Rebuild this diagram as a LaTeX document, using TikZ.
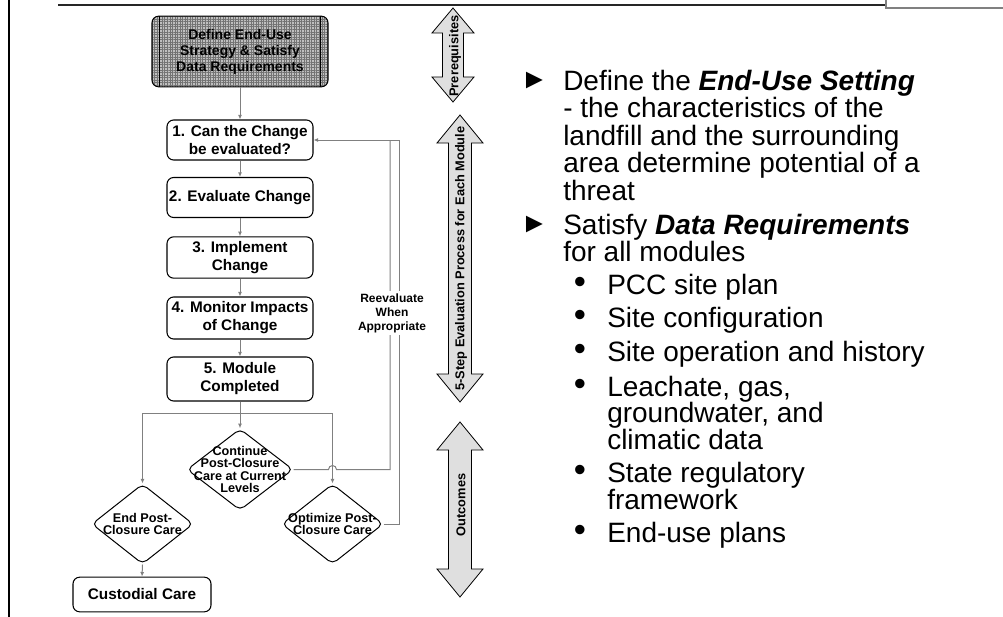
\documentclass[tikz,border=0pt]{standalone}
\usepackage{fontspec}
\setmainfont{Liberation Sans}
\usetikzlibrary{shapes.geometric,arrows.meta,patterns.meta}

\tikzset{
  stepbox/.style={draw=black, line width=0.8pt, rounded corners=5pt, fill=white,
    minimum width=109.5pt, minimum height=30pt, inner sep=1pt, align=center,
    font=\bfseries\fontsize{11.5}{13.5}\selectfont},
  choice/.style={draw=black, line width=0.75pt, shape=diamond, rounded corners=4pt,
    fill=white, inner sep=0pt, minimum width=76pt, minimum height=60pt},
  choicetext/.style={align=center, inner sep=0pt, font=\bfseries\fontsize{9.5}{9.2}\selectfont},
  flow/.style={draw=gray, line width=0.75pt},
  flowarrow/.style={flow, -{Latex[length=3.5pt,width=3pt]}},
  phase/.style={draw=black, line width=0.6pt, fill=gray!25},
  phasetext/.style={rotate=90, inner sep=0pt, font=\bfseries\fontsize{9.6}{11}\selectfont},
  bigtext/.style={anchor=base west, inner sep=0pt, font=\fontsize{21}{24}\selectfont},
  tribullet/.style={inner sep=0pt, font=\fontsize{21}{24}\selectfont},
  dotbullet/.style={inner sep=0pt, font=\fontsize{26}{28}\selectfont},
}

% double headed grey arrow: x, top tip, bottom tip, head length, head half width
\newcommand{\phasearrow}[5]{%
  \draw[phase] (#1,#2) -- (#1+#5,#2+#4) -- (#1+#5/2,#2+#4) -- (#1+#5/2,#3-#4)
    -- (#1+#5,#3-#4) -- (#1,#3) -- (#1-#5,#3-#4) -- (#1-#5/2,#3-#4)
    -- (#1-#5/2,#2+#4) -- (#1-#5,#2+#4) -- cycle;}

\begin{document}
\begin{tikzpicture}[x=0.75pt, y=-0.75pt]
\useasboundingbox (0,0) rectangle (1003,617);
% Frame
\draw[line width=2pt, black] (9,0) -- (9,617);
\draw[line width=2.2pt, black!85] (58,5) -- (886,5);
\draw[line width=1.5pt, gray] (886,0) -- (886,8) -- (1003,8);

% Start box
\node[draw=black, line width=0.8pt, rounded corners=5pt, minimum width=132pt, minimum height=53pt,
  preaction={fill=gray!50}, pattern={Hatch[angle=0, distance=1.9pt, line width=0.35pt]},
  pattern color=black!55] (define) at (240,51.5) {};
\draw[black, line width=0.6pt] ([xshift=6pt]define.north west) -- ([xshift=6pt]define.south west);
\draw[black, line width=0.6pt] ([xshift=-6pt]define.north east) -- ([xshift=-6pt]define.south east);
\node[align=center, font=\bfseries\fontsize{10.5}{12}\selectfont] (definetext) at (240,51.5)
  {Define End-Use\\Strategy \& Satisfy\\Data Requirements};

% Steps
\node[stepbox] (q1) at (240,140) {1. Can the Change\\be evaluated?};
\node[stepbox] (s2) at (240,197.5) {2. Evaluate Change};
\node[stepbox, minimum height=31pt] (s3) at (240,257.5) {3. Implement\\Change};
\node[stepbox, minimum height=31.5pt] (s4) at (240,318) {4. Monitor Impacts\\of Change};
\node[stepbox, minimum height=33pt] (s5) at (240,379) {5. Module\\Completed};

% Outcomes
\node[choice, minimum width=79.5pt, minimum height=61pt] (cont) at (240,469.5) {};
\node[choicetext] at (cont.center) {Continue\\Post-Closure\\Care at Current\\Levels};
\node[choice] (endpcc) at (142.5,524) {};
\node[choicetext] at (endpcc.center) {End Post-\\Closure Care};
\node[choice] (opt) at (332.5,524) {};
\node[choicetext] at (opt.center) {Optimize Post-\\Closure Care};
\node[stepbox, minimum width=103.5pt, minimum height=26pt] (cust) at (142,594.5) {Custodial Care};

% Connectors
\coordinate (split) at (240,413);
\coordinate (fbA) at (390,0);
\coordinate (fbB) at (399,0);
\draw[flowarrow] (define.south) -- (q1.north);
\draw[flowarrow] (q1.south) -- (s2.north);
\draw[flowarrow] (s2.south) -- (s3.north);
\draw[flowarrow] (s3.south) -- (s4.north);
\draw[flowarrow] (s4.south) -- (s5.north);
\draw[flow] (s5.south) -- (split);
\draw[flowarrow] (split) -| (endpcc.north);
\draw[flowarrow] (split) -- (cont.north);
\draw[flowarrow] (split) -| (opt.north);
\draw[flowarrow] (endpcc.south) -- (cust.north);
\draw[flow] (cont.east) -- ([xshift=-3pt]opt.north |- cont.east)
  arc[start angle=180, end angle=360, radius=4] -- (fbA |- cont.east) -- (fbA |- q1.east);
\draw[flowarrow] (opt.east) -- (fbB |- opt.east) -- (fbB |- q1.east) -- (q1.east);
\node[fill=white, inner sep=2pt, align=center, font=\bfseries\fontsize{9}{10.5}\selectfont]
  (reeval) at (392,313) {Reevaluate\\When\\Appropriate};

% Phase arrows
\phasearrow{453}{8}{102}{25}{21}
\node[phasetext] (prereq) at (455,56) {Prerequisites};
\phasearrow{460}{115}{402}{28}{23}
\node[phasetext] (steps) at (461,258.5) {5-Step Evaluation Process for Each Module};
\phasearrow{460}{422}{597}{28}{23}
\node[phasetext] (outc) at (461,505) {Outcomes};

% Text
\node[tribullet] (b1) at (534.5,81) {►};
\node[bigtext] (t1) at (563,90) {Define the \textbf{\textit{End-Use Setting}}};
\node[bigtext] (t2) at (563,117.5) {- the characteristics of the};
\node[bigtext] (t3) at (563,145) {landfill and the surrounding};
\node[bigtext] (t4) at (563,172.5) {area determine potential of a};
\node[bigtext] (t5) at (563,200) {threat};
\node[tribullet] (b2) at (534.5,225) {►};
\node[bigtext] (t6) at (563,234) {Satisfy \textbf{\textit{Data Requirements}}};
\node[bigtext] (t7) at (563,261.5) {for all modules};
\node[dotbullet] (d1) at (580,285) {•};
\node[bigtext] (t8) at (607,294) {PCC site plan};
\node[dotbullet] (d2) at (580,318) {•};
\node[bigtext] (t9) at (607,327) {Site configuration};
\node[dotbullet] (d3) at (580,352) {•};
\node[bigtext] (t10) at (607,361) {Site operation and history};
\node[dotbullet] (d4) at (580,387) {•};
\node[bigtext] (t11) at (607,396) {Leachate, gas,};
\node[bigtext] (t12) at (607,422.5) {groundwater, and};
\node[bigtext] (t13) at (607,449) {climatic data};
\node[dotbullet] (d5) at (580,473) {•};
\node[bigtext] (t14) at (607,482) {State regulatory};
\node[bigtext] (t15) at (607,509) {framework};
\node[dotbullet] (d6) at (580,533) {•};
\node[bigtext] (t16) at (607,542) {End-use plans};
\end{tikzpicture}
\end{document}
